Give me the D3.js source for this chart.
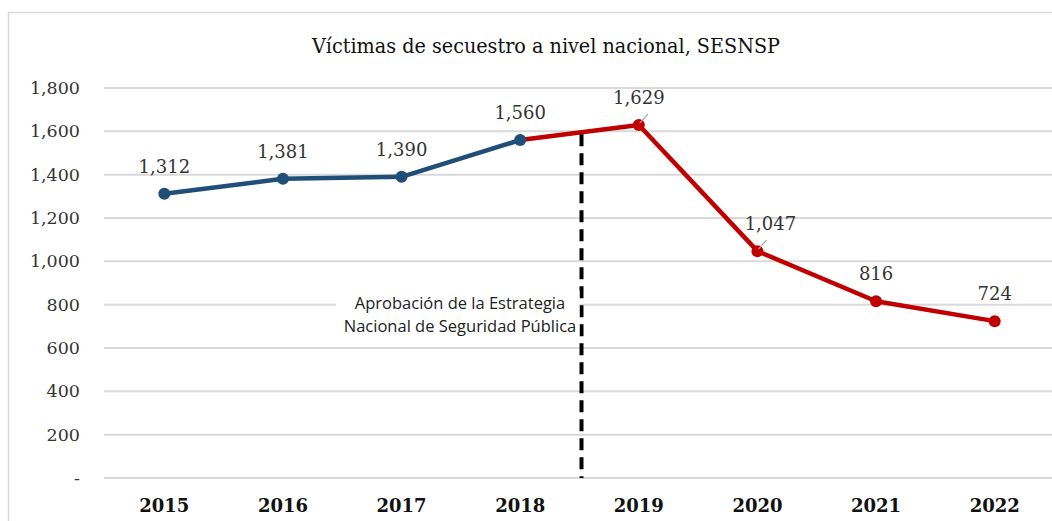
<!DOCTYPE html>
<html>
<head>
<meta charset="utf-8">
<script src="https://cdn.jsdelivr.net/npm/d3@7"></script>
<style>
  body { margin: 0; background: #fff; }
  svg { display: block; }
</style>
</head>
<body>
<svg id="chart"></svg>
<script>
// Datos del gráfico
const years = ["2015", "2016", "2017", "2018", "2019", "2020", "2021", "2022"];
const victims = [1312, 1381, 1390, 1560, 1629, 1047, 816, 724];
const yTicks = [0, 200, 400, 600, 800, 1000, 1200, 1400, 1600, 1800];
const splitYear = "2018";   // from here the line turns red
const labelNudge = [0, 0, 0, 0, 0, 13, 0, 0]; // labels pushed right (with leader)

const width = 1052;
const height = 521;
const blue = "#1f4e79";
const red = "#c00000";

const svg = d3.select("#chart")
    .attr("width", width)
    .attr("height", height);

// outer frame
svg.append("rect")
    .attr("x", 8.5).attr("y", 12.5)
    .attr("width", width + 20).attr("height", height + 20)
    .attr("fill", "none")
    .attr("stroke", "#d9d9d9")
    .attr("stroke-width", 1.5);

// title squeezed a bit, the original uses a condensed serif
svg.append("text")
    .attr("x", 546).attr("y", 53)
    .attr("text-anchor", "middle")
    .attr("textLength", 468)
    .attr("lengthAdjust", "spacingAndGlyphs")
    .style("font-family", "'DejaVu Serif'")
    .style("font-size", "21px")
    .attr("fill", "#111")
    .text("Víctimas de secuestro a nivel nacional, SESNSP");

const x = d3.scaleBand()
    .domain(years)
    .range([105, 1054]);

const y = d3.scaleLinear()
    .domain([0, 1800])
    .range([478, 88]);

// gridlines
svg.append("g")
    .selectAll("line")
    .data(yTicks)
    .enter().append("line")
    .attr("x1", 104).attr("x2", width)
    .attr("y1", d => y(d)).attr("y2", d => y(d))
    .attr("stroke", "#d9d9d9")
    .attr("stroke-width", 2);

// y axis labels
svg.append("g")
    .selectAll("text")
    .data(yTicks)
    .enter().append("text")
    .attr("x", 80)
    .attr("y", d => y(d) + 6)
    .attr("text-anchor", "end")
    .style("font-family", "'DejaVu Serif'")
    .style("font-size", "17.5px")
    .attr("fill", "#333")
    .text(d => d === 0 ? "-" : d3.format(",")(d));

// x axis labels
svg.append("g")
    .selectAll("text")
    .data(years)
    .enter().append("text")
    .attr("x", d => x(d) + x.bandwidth() / 2)
    .attr("y", 512)
    .attr("text-anchor", "middle")
    .style("font-family", "'DejaVu Serif'")
    .style("font-weight", "bold")
    .style("font-size", "18px")
    .attr("fill", "#111")
    .text(d => d);

const points = years.map((yr, i) => ({
    year: yr,
    value: victims[i],
    cx: x(yr) + x.bandwidth() / 2,
    cy: y(victims[i]),
    nudge: labelNudge[i],
    color: i <= years.indexOf(splitYear) ? blue : red
}));

const splitIdx = years.indexOf(splitYear);
const line = d3.line().x(d => d.cx).y(d => d.cy);

// red part first, so the blue markers sit on top
svg.append("path")
    .attr("d", line(points.slice(splitIdx)))
    .attr("fill", "none")
    .attr("stroke", red)
    .attr("stroke-width", 4.5)
    .attr("stroke-linejoin", "round");

svg.append("path")
    .attr("d", line(points.slice(0, splitIdx + 1)))
    .attr("fill", "none")
    .attr("stroke", blue)
    .attr("stroke-width", 4.5)
    .attr("stroke-linejoin", "round");

// dashed marker between 2018 and 2019
const xMid = (points[splitIdx].cx + points[splitIdx + 1].cx) / 2 + 2;
const interp = (xMid - points[splitIdx].cx) / (points[splitIdx + 1].cx - points[splitIdx].cx);
const vMid = victims[splitIdx] + interp * (victims[splitIdx + 1] - victims[splitIdx]);
svg.append("line")
    .attr("x1", xMid).attr("x2", xMid)
    .attr("y1", y(vMid) + 2).attr("y2", y(0))
    .attr("stroke", "#000")
    .attr("stroke-width", 4)
    .attr("stroke-dasharray", "12,7");

// annotation
const note = svg.append("g");
note.append("rect")
    .attr("x", 336).attr("y", 291)
    .attr("width", xMid - 338).attr("height", 45)
    .attr("fill", "#fff");
note.selectAll("text")
    .data(["Aprobación de la Estrategia", "Nacional de Seguridad Pública"])
    .enter().append("text")
    .attr("x", 460)
    .attr("y", (d, i) => 309 + i * 23)
    .attr("text-anchor", "middle")
    .style("font-family", "'Open Sans'")
    .style("font-size", "16.5px")
    .attr("fill", "#222")
    .text(d => d);

// markers
svg.append("g")
    .selectAll("circle")
    .data(points)
    .enter().append("circle")
    .attr("cx", d => d.cx)
    .attr("cy", d => d.cy)
    .attr("r", 6)
    .attr("fill", d => d.color);

// leader lines for two labels
svg.append("g")
    .selectAll("line")
    .data(points.filter(d => d.year === "2019" || d.year === "2020"))
    .enter().append("line")
    .attr("x1", d => d.cx + 1).attr("y1", d => d.cy - 2)
    .attr("x2", d => d.cx + 9).attr("y2", d => d.cy - 11)
    .attr("stroke", "#a6a6a6")
    .attr("stroke-width", 1.2);

// value labels
svg.append("g")
    .selectAll("text")
    .data(points)
    .enter().append("text")
    .attr("x", d => d.cx + d.nudge)
    .attr("y", d => d.cy - 21)
    .attr("text-anchor", "middle")
    .style("font-family", "'DejaVu Serif'")
    .style("font-size", "18px")
    .attr("fill", "#333")
    .text(d => d3.format(",")(d.value));
</script>
</body>
</html>
